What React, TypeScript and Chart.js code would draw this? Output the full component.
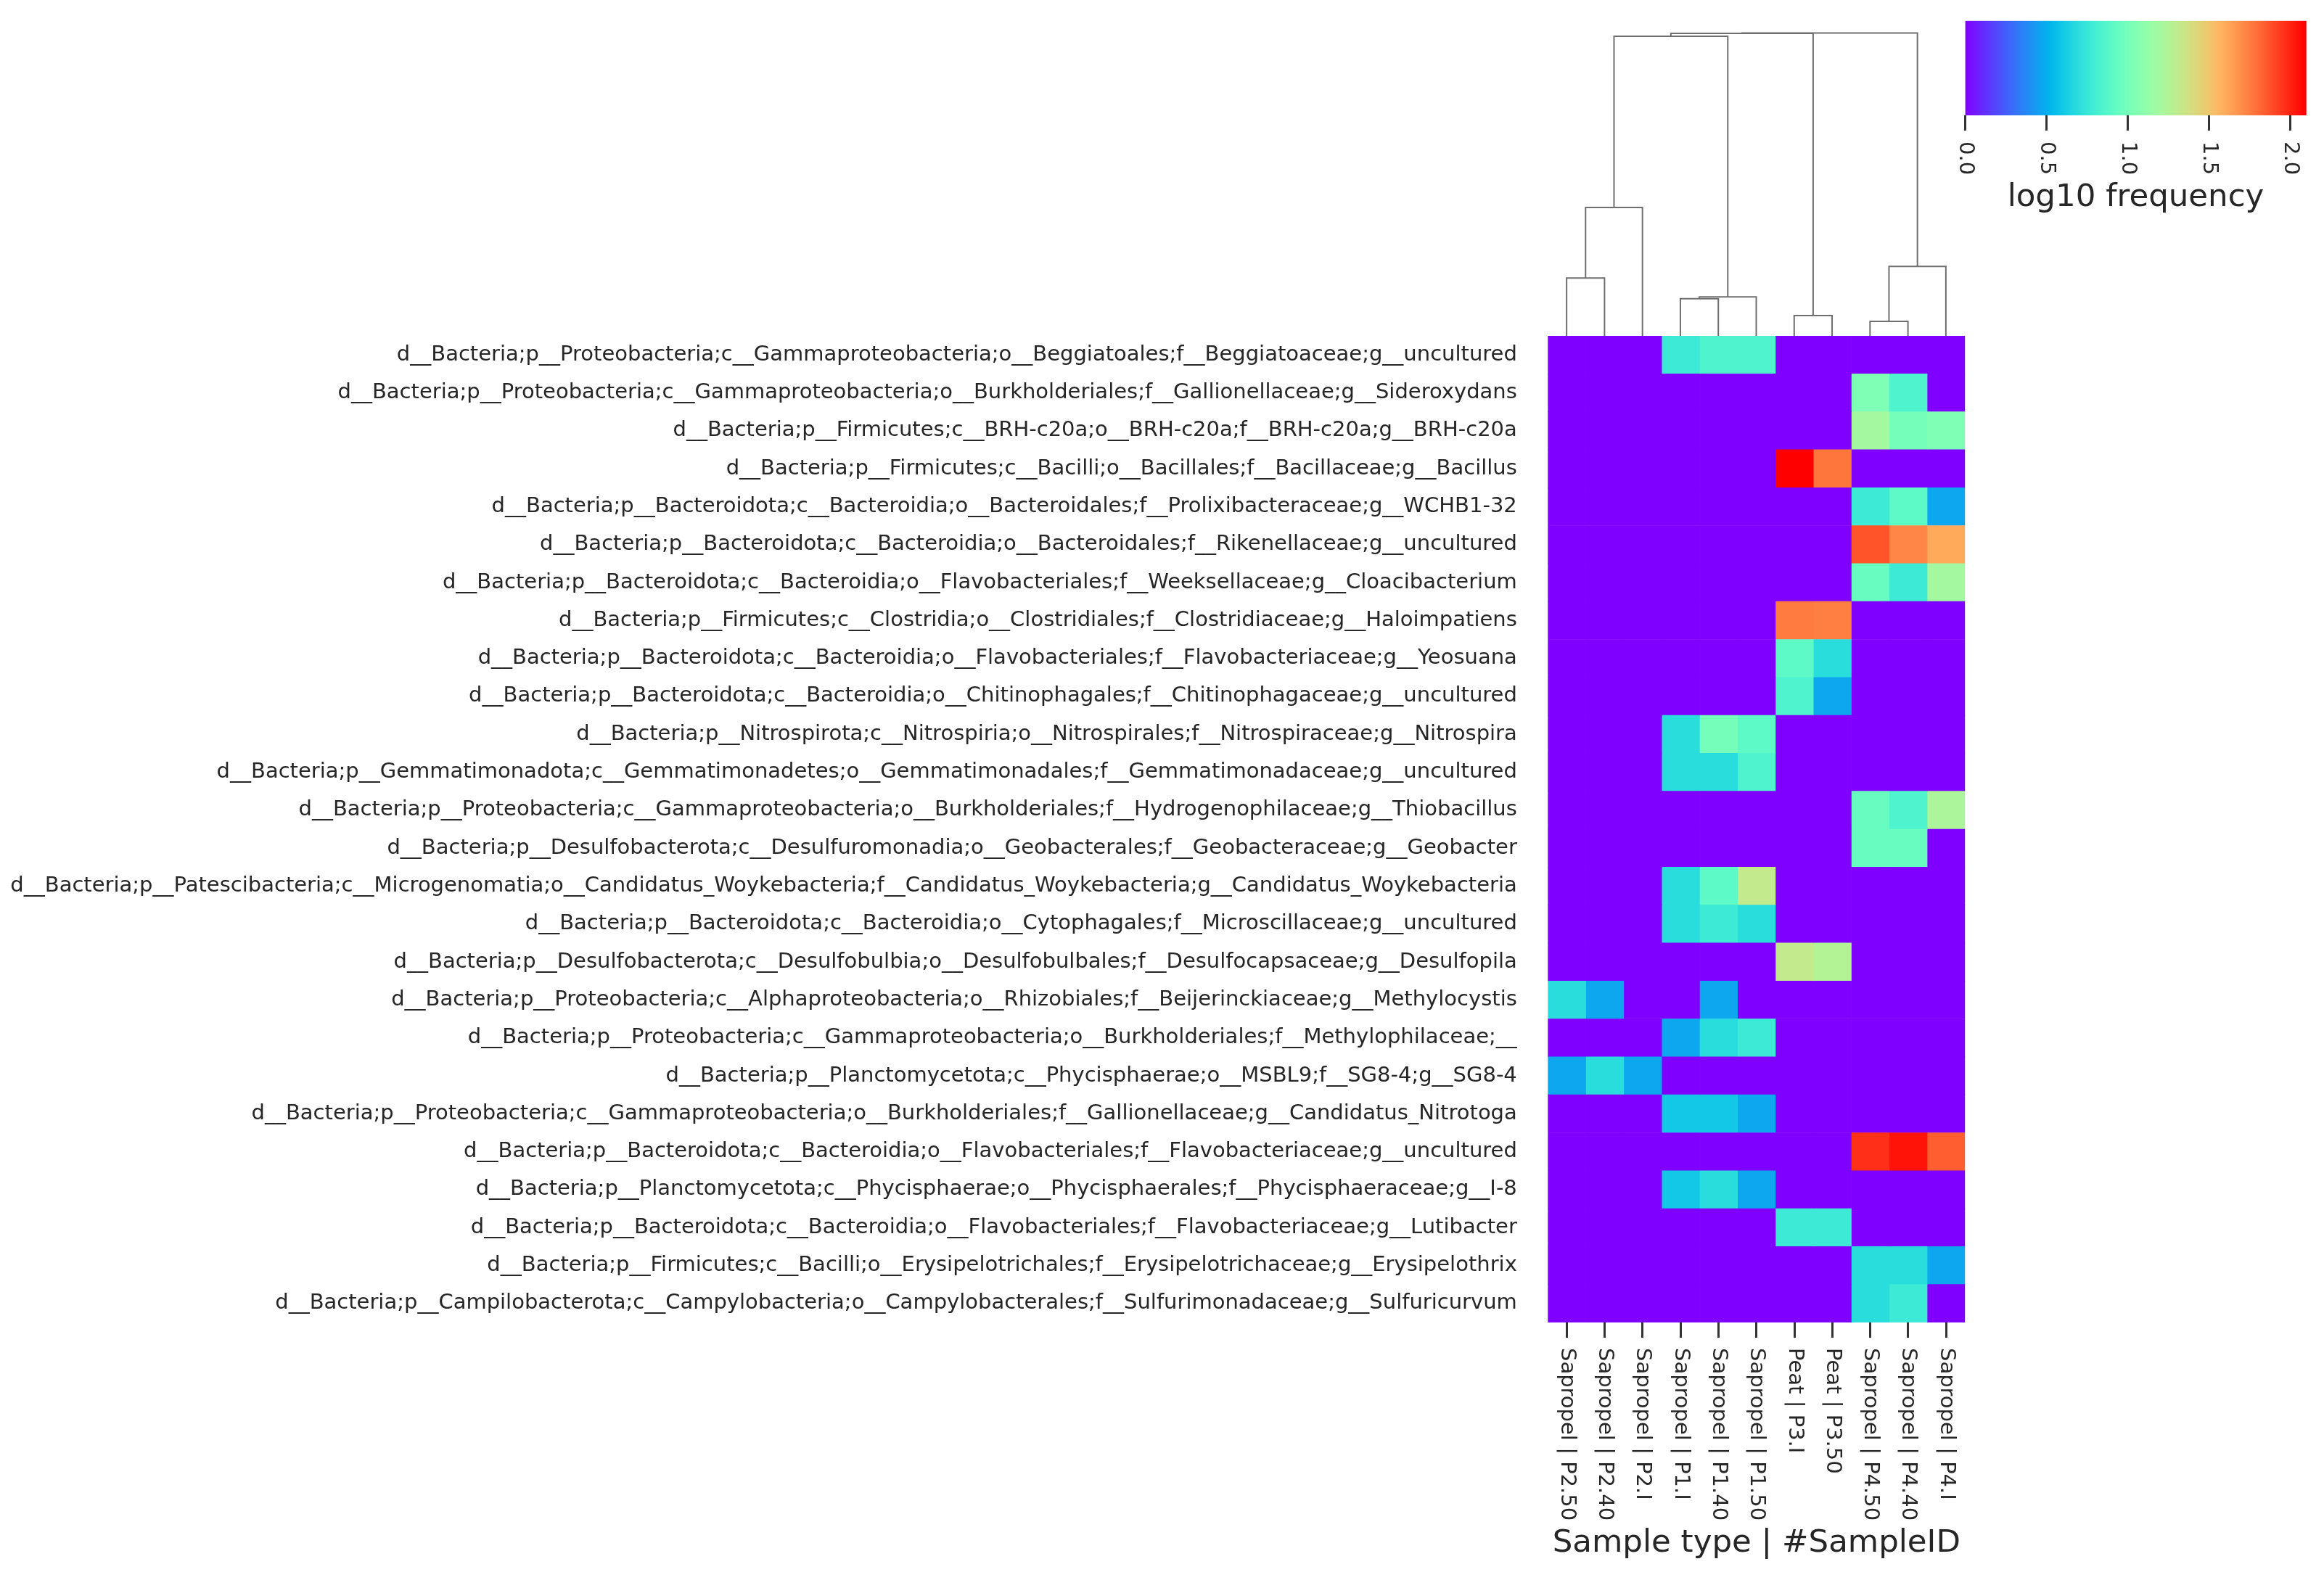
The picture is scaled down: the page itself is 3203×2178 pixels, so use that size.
import React, { useEffect, useRef } from 'react';
import { Chart, registerables } from 'chart.js';

Chart.register(...registerables);

const FONT = '"DejaVu Sans", sans-serif';
const TEXT = '#262626';
const TICK_FONT_SIZE = 29;
const LABEL_FONT_SIZE = 43.5;

const samples = [
  'Sapropel | P2.50', 'Sapropel | P2.40', 'Sapropel | P2.I', 'Sapropel | P1.I',
  'Sapropel | P1.40', 'Sapropel | P1.50', 'Peat | P3.I', 'Peat | P3.50',
  'Sapropel | P4.50', 'Sapropel | P4.40', 'Sapropel | P4.I',
];

const taxa = [
  'd__Bacteria;p__Proteobacteria;c__Gammaproteobacteria;o__Beggiatoales;f__Beggiatoaceae;g__uncultured',
  'd__Bacteria;p__Proteobacteria;c__Gammaproteobacteria;o__Burkholderiales;f__Gallionellaceae;g__Sideroxydans',
  'd__Bacteria;p__Firmicutes;c__BRH-c20a;o__BRH-c20a;f__BRH-c20a;g__BRH-c20a',
  'd__Bacteria;p__Firmicutes;c__Bacilli;o__Bacillales;f__Bacillaceae;g__Bacillus',
  'd__Bacteria;p__Bacteroidota;c__Bacteroidia;o__Bacteroidales;f__Prolixibacteraceae;g__WCHB1-32',
  'd__Bacteria;p__Bacteroidota;c__Bacteroidia;o__Bacteroidales;f__Rikenellaceae;g__uncultured',
  'd__Bacteria;p__Bacteroidota;c__Bacteroidia;o__Flavobacteriales;f__Weeksellaceae;g__Cloacibacterium',
  'd__Bacteria;p__Firmicutes;c__Clostridia;o__Clostridiales;f__Clostridiaceae;g__Haloimpatiens',
  'd__Bacteria;p__Bacteroidota;c__Bacteroidia;o__Flavobacteriales;f__Flavobacteriaceae;g__Yeosuana',
  'd__Bacteria;p__Bacteroidota;c__Bacteroidia;o__Chitinophagales;f__Chitinophagaceae;g__uncultured',
  'd__Bacteria;p__Nitrospirota;c__Nitrospiria;o__Nitrospirales;f__Nitrospiraceae;g__Nitrospira',
  'd__Bacteria;p__Gemmatimonadota;c__Gemmatimonadetes;o__Gemmatimonadales;f__Gemmatimonadaceae;g__uncultured',
  'd__Bacteria;p__Proteobacteria;c__Gammaproteobacteria;o__Burkholderiales;f__Hydrogenophilaceae;g__Thiobacillus',
  'd__Bacteria;p__Desulfobacterota;c__Desulfuromonadia;o__Geobacterales;f__Geobacteraceae;g__Geobacter',
  'd__Bacteria;p__Patescibacteria;c__Microgenomatia;o__Candidatus_Woykebacteria;f__Candidatus_Woykebacteria;g__Candidatus_Woykebacteria',
  'd__Bacteria;p__Bacteroidota;c__Bacteroidia;o__Cytophagales;f__Microscillaceae;g__uncultured',
  'd__Bacteria;p__Desulfobacterota;c__Desulfobulbia;o__Desulfobulbales;f__Desulfocapsaceae;g__Desulfopila',
  'd__Bacteria;p__Proteobacteria;c__Alphaproteobacteria;o__Rhizobiales;f__Beijerinckiaceae;g__Methylocystis',
  'd__Bacteria;p__Proteobacteria;c__Gammaproteobacteria;o__Burkholderiales;f__Methylophilaceae;__',
  'd__Bacteria;p__Planctomycetota;c__Phycisphaerae;o__MSBL9;f__SG8-4;g__SG8-4',
  'd__Bacteria;p__Proteobacteria;c__Gammaproteobacteria;o__Burkholderiales;f__Gallionellaceae;g__Candidatus_Nitrotoga',
  'd__Bacteria;p__Bacteroidota;c__Bacteroidia;o__Flavobacteriales;f__Flavobacteriaceae;g__uncultured',
  'd__Bacteria;p__Planctomycetota;c__Phycisphaerae;o__Phycisphaerales;f__Phycisphaeraceae;g__I-8',
  'd__Bacteria;p__Bacteroidota;c__Bacteroidia;o__Flavobacteriales;f__Flavobacteriaceae;g__Lutibacter',
  'd__Bacteria;p__Firmicutes;c__Bacilli;o__Erysipelotrichales;f__Erysipelotrichaceae;g__Erysipelothrix',
  'd__Bacteria;p__Campilobacterota;c__Campylobacteria;o__Campylobacterales;f__Sulfurimonadaceae;g__Sulfuricurvum',
];

// log10 frequency per sample (one value per taxon, same order as `taxa`)
const sapropelP2_50 = [0, 0, 0, 0, 0, 0, 0, 0, 0, 0, 0, 0, 0, 0, 0, 0, 0, 0.699, 0, 0.477, 0, 0, 0, 0, 0, 0];
const sapropelP2_40 = [0, 0, 0, 0, 0, 0, 0, 0, 0, 0, 0, 0, 0, 0, 0, 0, 0, 0.477, 0, 0.699, 0, 0, 0, 0, 0, 0];
const sapropelP2_I = [0, 0, 0, 0, 0, 0, 0, 0, 0, 0, 0, 0, 0, 0, 0, 0, 0, 0, 0, 0.477, 0, 0, 0, 0, 0, 0];
const sapropelP1_I = [0.778, 0, 0, 0, 0, 0, 0, 0, 0, 0, 0.699, 0.699, 0, 0, 0.699, 0.699, 0, 0, 0.477, 0, 0.602, 0, 0.602, 0, 0, 0];
const sapropelP1_40 = [0.845, 0, 0, 0, 0, 0, 0, 0, 0, 0, 1.0, 0.699, 0, 0, 0.903, 0.778, 0, 0.477, 0.699, 0, 0.602, 0, 0.699, 0, 0, 0];
const sapropelP1_50 = [0.845, 0, 0, 0, 0, 0, 0, 0, 0, 0, 0.903, 0.845, 0, 0, 1.322, 0.699, 0, 0, 0.778, 0, 0.477, 0, 0.477, 0, 0, 0];
const peatP3_I = [0, 0, 0, 2.097, 0, 0, 0, 1.756, 0.903, 0.845, 0, 0, 0, 0, 0, 0, 1.322, 0, 0, 0, 0, 0, 0, 0.778, 0, 0];
const peatP3_50 = [0, 0, 0, 1.771, 0, 0, 0, 1.748, 0.699, 0.477, 0, 0, 0, 0, 0, 0, 1.255, 0, 0, 0, 0, 0, 0, 0.778, 0, 0];
const sapropelP4_50 = [0, 1.041, 1.204, 0, 0.778, 1.869, 0.954, 0, 0, 0, 0, 0, 0.954, 0.954, 0, 0, 0, 0, 0, 0, 0, 1.973, 0, 0, 0.699, 0.699];
const sapropelP4_40 = [0, 0.845, 1.0, 0, 0.903, 1.724, 0.778, 0, 0, 0, 0, 0, 0.845, 0.954, 0, 0, 0, 0, 0, 0, 0, 2.045, 0, 0, 0.699, 0.778];
const sapropelP4_I = [0, 0, 1.041, 0, 0.477, 1.613, 1.204, 0, 0, 0, 0, 0, 1.23, 0, 0, 0, 0, 0, 0, 0, 0, 1.839, 0, 0, 0.477, 0];

const sampleValues = [
  sapropelP2_50, sapropelP2_40, sapropelP2_I, sapropelP1_I, sapropelP1_40, sapropelP1_50,
  peatP3_I, peatP3_50, sapropelP4_50, sapropelP4_40, sapropelP4_I,
];

const VMAX = 2.097;
const colorbarTicks = [0, 0.5, 1, 1.5, 2];
const colorbarTickLabels = ['0.0', '0.5', '1.0', '1.5', '2.0'];

// column dendrogram (scipy-style merges; leaves 0..10, new clusters 11..)
const mergeLeft = [0, 8, 6, 3, 14, 12, 11, 17, 18, 19];
const mergeRight = [1, 9, 7, 4, 5, 10, 2, 15, 13, 16];
const mergeHeight = [0.797, 0.2, 0.28, 0.513, 0.537, 0.957, 1.77, 4.13, 4.17, 4.176];

function rainbow(t: number): string {
  const x = Math.min(1, Math.max(0, t));
  const idx = Math.min(255, Math.floor(x * 256));
  const u = idx / 255;
  const r = Math.min(1, Math.abs(2 * u - 0.5));
  const g = Math.max(0, Math.sin(Math.PI * u));
  const b = Math.max(0, Math.cos((Math.PI * u) / 2));
  return `rgb(${Math.round(r * 255)},${Math.round(g * 255)},${Math.round(b * 255)})`;
}

// layout (pixels)
const HM_LEFT = 2133.3;
const HM_RIGHT = 2708.3;
const HM_TOP = 463;
const HM_BOTTOM = 1823;
const PAGE_H = 2178;

const HM_CANVAS_W = 2740;
const DEN_CANVAS_LEFT = HM_LEFT - 20;
const DEN_CANVAS_W = HM_RIGHT - HM_LEFT + 40;
const DEN_CANVAS_H = HM_TOP + 10;
const CB_CANVAS_LEFT = 2690;
const CB_CANVAS_W = 513;
const CB_CANVAS_H = 320;
const CB_LEFT = 2708.3;
const CB_RIGHT = 3178.7;
const CB_TOP = 28.7;
const CB_BOTTOM = 159;

const xLabelPlugin = {
  id: 'rotatedSampleLabels',
  afterDraw(chart: any) {
    const { ctx, chartArea } = chart;
    const x = chart.scales.x;
    ctx.save();
    ctx.font = `${TICK_FONT_SIZE}px ${FONT}`;
    ctx.fillStyle = TEXT;
    ctx.textAlign = 'left';
    ctx.textBaseline = 'middle';
    samples.forEach((s, i) => {
      const px = x.getPixelForValue(i + 0.5);
      ctx.save();
      ctx.translate(px, chartArea.bottom + 35);
      ctx.rotate(Math.PI / 2);
      ctx.fillText(s, 0, 0);
      ctx.restore();
    });
    ctx.restore();
  },
};

const cbLabelPlugin = {
  id: 'rotatedColorbarLabels',
  afterDraw(chart: any) {
    const { ctx, chartArea } = chart;
    const x = chart.scales.x;
    ctx.save();
    ctx.font = `${TICK_FONT_SIZE}px ${FONT}`;
    ctx.fillStyle = TEXT;
    ctx.textAlign = 'left';
    ctx.textBaseline = 'middle';
    colorbarTicks.forEach((v, i) => {
      const px = x.getPixelForValue(v);
      ctx.save();
      ctx.translate(px, chartArea.bottom + 36);
      ctx.rotate(Math.PI / 2);
      ctx.fillText(colorbarTickLabels[i], 0, 0);
      ctx.restore();
    });
    ctx.restore();
  },
};

export default function App() {
  const hmRef = useRef<HTMLCanvasElement>(null);
  const denRef = useRef<HTMLCanvasElement>(null);
  const cbRef = useRef<HTMLCanvasElement>(null);

  useEffect(() => {
    document.body.style.margin = '0';
    document.body.style.overflow = 'hidden';
    Chart.defaults.font.family = FONT;
    Chart.defaults.color = TEXT;

    // Heatmap
    const heat = new Chart(hmRef.current as HTMLCanvasElement, {
      type: 'bar',
      data: {
        labels: taxa,
        datasets: sampleValues.map((col, ci) => ({
          label: samples[ci],
          data: col.map(() => [ci, ci + 1]) as any,
          backgroundColor: col.map((v) => rainbow(v / VMAX)),
          borderWidth: 0,
          barPercentage: 1,
          categoryPercentage: 1,
          grouped: false,
        })),
      },
      options: {
        indexAxis: 'y',
        responsive: false,
        animation: false,
        events: [],
        layout: { padding: { top: HM_TOP, left: 0, right: HM_CANVAS_W - HM_RIGHT, bottom: 0 } },
        plugins: { legend: { display: false }, tooltip: { enabled: false } },
        scales: {
          x: {
            type: 'linear',
            position: 'bottom',
            min: 0,
            max: samples.length,
            afterBuildTicks: (scale: any) => {
              scale.ticks = samples.map((_, i) => ({ value: i + 0.5 }));
            },
            afterFit: (scale: any) => {
              scale.height = PAGE_H - HM_BOTTOM;
            },
            ticks: { display: false },
            grid: {
              display: true,
              drawOnChartArea: false,
              drawTicks: true,
              tickLength: 21,
              tickWidth: 3,
              tickColor: '#333333',
            },
            border: { display: false },
            title: {
              display: true,
              text: 'Sample type | #SampleID',
              color: TEXT,
              font: { family: FONT, size: LABEL_FONT_SIZE },
              padding: { top: 0, bottom: 24 },
            },
          },
          y: {
            type: 'category',
            position: 'left',
            afterFit: (scale: any) => {
              scale.width = HM_LEFT;
            },
            grid: { display: false, drawTicks: false },
            border: { display: false },
            ticks: {
              autoSkip: false,
              padding: 42.5,
              color: TEXT,
              font: { family: FONT, size: TICK_FONT_SIZE },
            },
          },
        },
      } as any,
      plugins: [xLabelPlugin],
    });

    // Dendrogram
    const pos: number[] = samples.map((_, i) => i + 0.5);
    const hgt: number[] = samples.map(() => 0);
    const links = mergeLeft.map((a, k) => {
      const b = mergeRight[k];
      const h = mergeHeight[k];
      const pts = [
        { x: pos[a], y: hgt[a] },
        { x: pos[a], y: h },
        { x: pos[b], y: h },
        { x: pos[b], y: hgt[b] },
      ];
      pos.push((pos[a] + pos[b]) / 2);
      hgt.push(h);
      return pts;
    });
    const maxH = Math.max(...mergeHeight) * 1.05;
    const den = new Chart(denRef.current as HTMLCanvasElement, {
      type: 'scatter',
      data: {
        datasets: links.map((pts) => ({
          data: pts,
          showLine: true,
          pointRadius: 0,
          borderColor: '#6f6f6f',
          borderWidth: 2,
          fill: false,
          tension: 0,
          clip: false,
        })),
      },
      options: {
        responsive: false,
        animation: false,
        events: [],
        layout: { padding: { left: 20, right: 20, top: HM_TOP - maxH * 100, bottom: 10 } },
        plugins: { legend: { display: false }, tooltip: { enabled: false } },
        scales: {
          x: { type: 'linear', min: 0, max: samples.length, display: false },
          y: { type: 'linear', min: 0, max: maxH, display: false },
        },
      } as any,
    });

    // Colorbar
    const cb = new Chart(cbRef.current as HTMLCanvasElement, {
      type: 'bar',
      data: {
        labels: ['log10 frequency'],
        datasets: [
          {
            data: [[0, VMAX]] as any,
            backgroundColor: (c: any) => {
              const area = c.chart.chartArea;
              if (!area) return '#8000ff';
              const g = c.chart.ctx.createLinearGradient(area.left, 0, area.right, 0);
              for (let i = 0; i <= 128; i++) g.addColorStop(i / 128, rainbow(i / 128));
              return g;
            },
            borderWidth: 0,
            barPercentage: 1,
            categoryPercentage: 1,
          },
        ],
      },
      options: {
        indexAxis: 'y',
        responsive: false,
        animation: false,
        events: [],
        layout: {
          padding: {
            top: CB_TOP,
            left: CB_LEFT - CB_CANVAS_LEFT,
            right: CB_CANVAS_LEFT + CB_CANVAS_W - CB_RIGHT,
            bottom: 0,
          },
        },
        plugins: { legend: { display: false }, tooltip: { enabled: false } },
        scales: {
          x: {
            type: 'linear',
            position: 'bottom',
            min: 0,
            max: VMAX,
            afterBuildTicks: (scale: any) => {
              scale.ticks = colorbarTicks.map((v) => ({ value: v }));
            },
            afterFit: (scale: any) => {
              scale.height = CB_CANVAS_H - CB_BOTTOM;
            },
            ticks: { display: false },
            grid: {
              display: true,
              drawOnChartArea: false,
              drawTicks: true,
              tickLength: 21,
              tickWidth: 3,
              tickColor: '#333333',
            },
            border: { display: false },
            title: {
              display: true,
              text: 'log10 frequency',
              color: TEXT,
              font: { family: FONT, size: LABEL_FONT_SIZE },
              padding: { top: 0, bottom: 21 },
            },
          },
          y: { display: false },
        },
      } as any,
      plugins: [cbLabelPlugin],
    });

    return () => {
      heat.destroy();
      den.destroy();
      cb.destroy();
    };
  }, []);

  return (
    <div style={{ position: 'absolute', left: 0, top: 0, width: 3203, height: PAGE_H, background: '#ffffff', overflow: 'hidden' }}>
      <canvas
        ref={hmRef}
        width={HM_CANVAS_W}
        height={PAGE_H}
        style={{ position: 'absolute', left: 0, top: 0 }}
      />
      <canvas
        ref={denRef}
        width={Math.round(DEN_CANVAS_W)}
        height={DEN_CANVAS_H}
        style={{ position: 'absolute', left: DEN_CANVAS_LEFT, top: 0 }}
      />
      <canvas
        ref={cbRef}
        width={CB_CANVAS_W}
        height={CB_CANVAS_H}
        style={{ position: 'absolute', left: CB_CANVAS_LEFT, top: 0 }}
      />
    </div>
  );
}
